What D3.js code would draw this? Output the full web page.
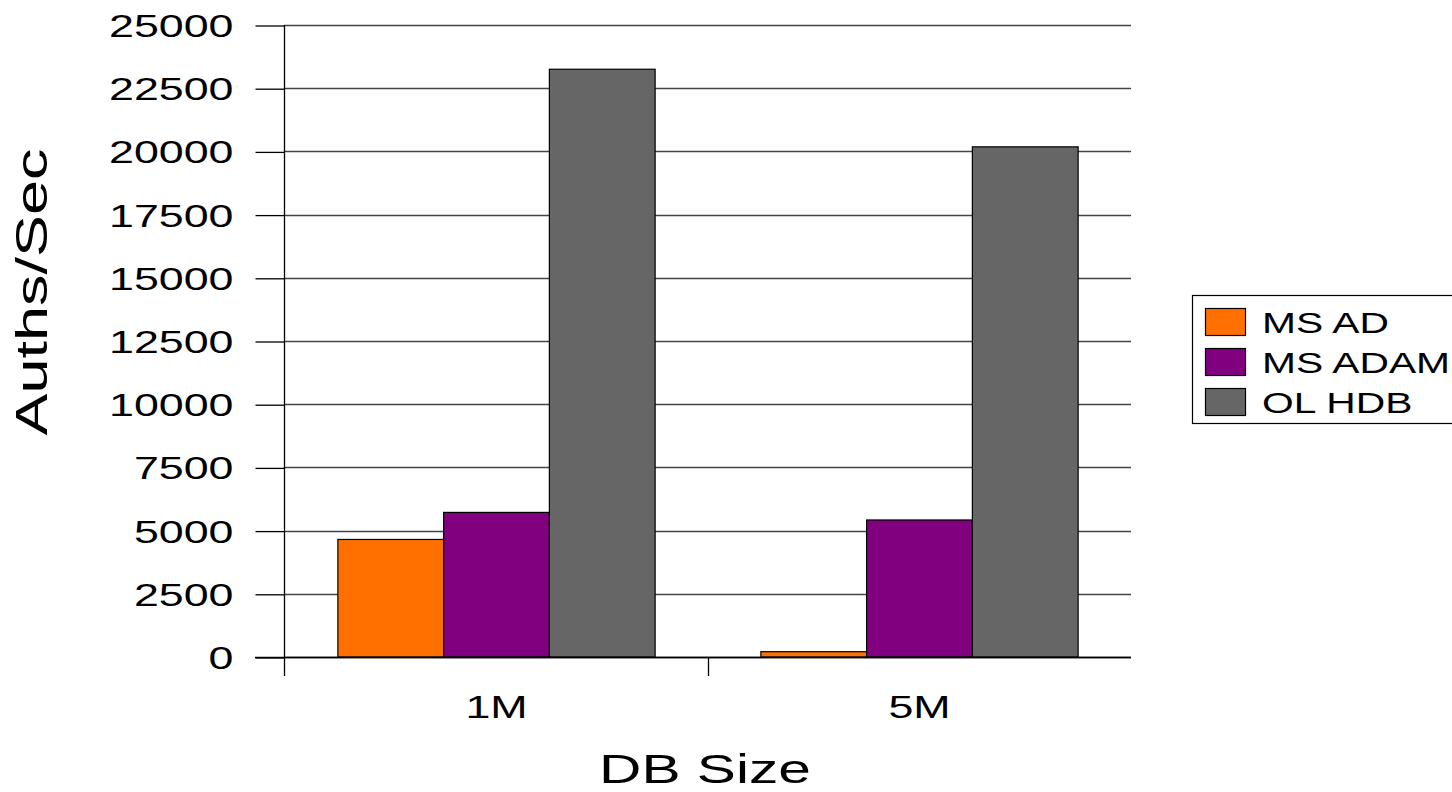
<!DOCTYPE html>
<html>
<head>
<meta charset="utf-8">
<script src="https://cdn.jsdelivr.net/npm/d3@7"></script>
<style>
  html, body { margin: 0; padding: 0; background: #fff; }
  svg { display: block; }
  text { font-family: "Liberation Sans", Arial, sans-serif; fill: #000; }
</style>
</head>
<body>
<svg id="chart" width="1452" height="792"></svg>
<script>
const categories = ["1M", "5M"];
const seriesNames = ["MS AD", "MS ADAM", "OL HDB"];
const msAD   = [4650, 210];
const msADAM = [5720, 5420];
const olHDB  = [23250, 20180];
const yTicks = [0, 2500, 5000, 7500, 10000, 12500, 15000, 17500, 20000, 22500, 25000];
const colors = ["#ff7000", "#800080", "#666666"];
const xTitle = "DB Size";
const yTitle = "Auths/Sec";

(function () {
const seriesValues = [msAD, msADAM, olHDB];
const data = categories.map((c, i) => ({
  cat: c,
  vals: seriesNames.map((s, j) => ({ series: s, value: seriesValues[j][i], color: colors[j] }))
}));

const SX = 1.4; // horizontal glyph stretch seen in the reference
const svg = d3.select("#chart");

const pLeft = 285, pRight = 1131, pTop = 25, pBottom = 657;
const x0 = d3.scaleBand().domain(categories).range([pLeft, pRight]).paddingInner(0).paddingOuter(0);
const x1 = d3.scaleBand().domain(seriesNames).range([0, x0.bandwidth()]).paddingInner(0).paddingOuter(0.5);
const y = d3.scaleLinear().domain([0, 25000]).range([pBottom, pTop]);

// gridlines
svg.append("g").selectAll("line").data(yTicks).join("line")
  .attr("x1", 284).attr("x2", pRight)
  .attr("y1", d => Math.round(y(d)) + 0.5).attr("y2", d => Math.round(y(d)) + 0.5)
  .attr("stroke", d => d === 0 ? "#000" : "#444").attr("stroke-width", 1.3);

// y axis with ticks & labels
const yAxis = svg.append("g").attr("transform", "translate(284.5,0.5)")
  .call(d3.axisLeft(y).tickValues(yTicks).tickSize(29).tickPadding(0).tickFormat(d3.format("d")));
yAxis.select(".domain").remove();
yAxis.selectAll(".tick line").attr("stroke", "#000").attr("stroke-width", 1.3);
yAxis.selectAll(".tick text")
  .attr("x", null).attr("dy", null)
  .attr("font-size", 32)
  .attr("text-anchor", "end")
  .attr("dominant-baseline", "central")
  .attr("transform", `translate(-51,0) scale(${SX},1)`)
  .style("font-family", "'Liberation Sans', Arial, sans-serif");

// y axis line
svg.append("line").attr("x1", 284.5).attr("x2", 284.5).attr("y1", pTop).attr("y2", 676)
  .attr("stroke", "#000").attr("stroke-width", 1.3);

// category boundary ticks
svg.append("g").selectAll("line").data(categories.slice(1)).join("line")
  .attr("x1", d => Math.round(x0(d)) + 0.5).attr("x2", d => Math.round(x0(d)) + 0.5)
  .attr("y1", pBottom).attr("y2", 676)
  .attr("stroke", "#000").attr("stroke-width", 1.3);

// bars
const groups = svg.append("g").selectAll("g").data(data).join("g")
  .attr("transform", d => `translate(${x0(d.cat)},0)`);
groups.selectAll("rect").data(d => d.vals).join("rect")
  .attr("x", d => x1(d.series))
  .attr("width", x1.bandwidth())
  .attr("y", d => y(d.value))
  .attr("height", d => y(0) - y(d.value))
  .attr("fill", d => d.color)
  .attr("stroke", "#000").attr("stroke-width", 1.2);

// x axis labels
const xAxis = svg.append("g").attr("transform", `translate(0,${pBottom})`)
  .call(d3.axisBottom(x0).tickSize(0).tickPadding(0));
xAxis.select(".domain").remove();
xAxis.selectAll(".tick text")
  .attr("y", null).attr("dy", null)
  .attr("font-size", 32)
  .attr("text-anchor", "middle")
  .attr("transform", `translate(0,61) scale(${SX},1)`)
  .style("font-family", "'Liberation Sans', Arial, sans-serif");

// x axis line on top of bars
svg.append("line").attr("x1", 255).attr("x2", pRight)
  .attr("y1", pBottom + 0.5).attr("y2", pBottom + 0.5).attr("stroke", "#000").attr("stroke-width", 1.3);

// axis titles
svg.append("text").text(xTitle)
  .attr("font-size", 41).attr("text-anchor", "middle")
  .attr("transform", `translate(705,783) scale(1.43,1)`);
svg.append("text").text(yTitle)
  .attr("font-size", 45).attr("text-anchor", "middle")
  .attr("transform", `translate(47,292) rotate(-90) scale(${SX},1)`);

// legend
const lg = svg.append("g");
lg.append("rect").attr("x", 1192.5).attr("y", 295.5).attr("width", 270).attr("height", 128)
  .attr("fill", "#fff").attr("stroke", "#000").attr("stroke-width", 1.2);
const items = lg.selectAll("g.item").data(seriesNames).join("g").attr("class", "item")
  .attr("transform", (d, i) => `translate(0,${i * 40})`);
items.append("rect").attr("x", 1205.5).attr("y", 308.5).attr("width", 40).attr("height", 27)
  .attr("fill", (d, i) => colors[i]).attr("stroke", "#000").attr("stroke-width", 1.2);
items.append("text").text(d => d)
  .attr("font-size", 30)
  .attr("transform", `translate(1262,333) scale(1.36,1)`);
})();
</script>
</body>
</html>
